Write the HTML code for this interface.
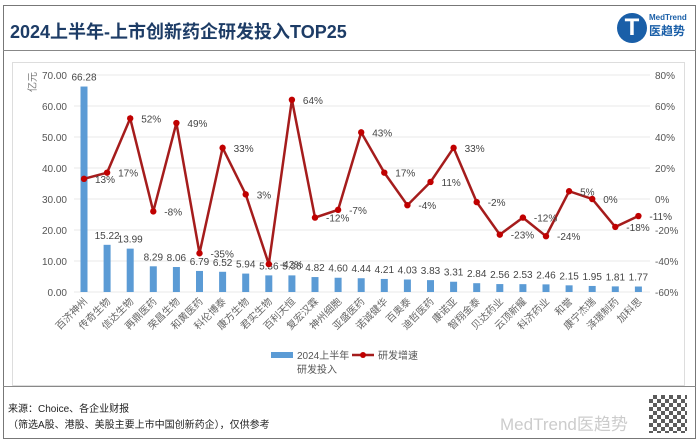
<!DOCTYPE html>
<html><head><meta charset="utf-8">
<style>
body{margin:0;width:700px;height:442px;background:#fff;font-family:"Liberation Sans","Noto Sans CJK SC",sans-serif;overflow:hidden;position:relative}
.abs{position:absolute}
</style></head>
<body>
<div class="abs" style="left:3px;top:5px;width:691px;height:432px;border:1px solid #777;"></div>
<div class="abs" style="left:3px;top:50px;width:693px;height:1px;background:#888"></div>
<div class="abs" style="left:10px;top:18px;font-size:18px;font-weight:bold;color:#1d3c66;font-family:'Liberation Sans','Noto Sans CJK SC',sans-serif">2024上半年-上市创新药企研发投入TOP25</div>
<div class="abs" style="left:617px;top:13px;width:30px;height:30px;border-radius:50%;background:#1a5fa8;color:#fff;font-weight:bold;font-size:24px;text-align:center;line-height:30px">T</div>
<div class="abs" style="left:649px;top:13px;font-size:8px;color:#1a5fa8;font-weight:bold;line-height:10px">MedTrend<br><span style="font-size:12px;line-height:16px">医趋势</span></div>
<div class="abs" style="left:12px;top:62px;width:671px;height:322px;border:1px solid #ddd"></div>
<div class="abs" style="left:3px;top:386px;width:693px;height:1px;background:#888"></div>
<div class="abs" style="left:8px;top:402px;font-size:10px;color:#222;line-height:16px">来源：Choice、各企业财报<br>（筛选A股、港股、美股主要上市中国创新药企），仅供参考</div>
<div class="abs" style="left:500px;top:410px;font-size:17px;color:#ccc">MedTrend医趋势</div>
<div class="abs" style="left:649px;top:395px;width:38px;height:38px;background:repeating-conic-gradient(#333 0 25%,#fff 0 50%) 0 0/8px 8px;opacity:.8"></div>
<svg class="abs" style="left:0;top:0" width="700" height="442" id="chart"></svg>
<script>
const categories=["百济神州","传奇生物","信达生物","再鼎医药","荣昌生物","和黄医药","科伦博泰","康方生物","君实生物","百利天恒","复宏汉霖","神州细胞","亚盛医药","诺诚健华","百奥泰","迪哲医药","康诺亚","智翔金泰","贝达药业","云顶新耀","科济药业","和誉","康宁杰瑞","泽璟制药","加科思"];
const spend=[66.28,15.22,13.99,8.29,8.06,6.79,6.52,5.94,5.36,5.36,4.82,4.60,4.44,4.21,4.03,3.83,3.31,2.84,2.56,2.53,2.46,2.15,1.95,1.81,1.77];
const growth=[13,17,52,-8,49,-35,33,3,-42,64,-12,-7,43,17,-4,11,33,-2,-23,-12,-24,5,0,-18,-11];
const leftTicks=[0,10,20,30,40,50,60,70];
const rightTicks=[-60,-40,-20,0,20,40,60,80];
const svg=document.getElementById('chart');const NS='http://www.w3.org/2000/svg';
const x0=84,dx=23.1,yB=292,yT=75;
const yL=v=>yB-(v/70)*(yB-yT);
const yR=v=>yB-((v+60)/140)*(yB-yT);
const xc=i=>x0+i*dx;
function mk(t,a,txt){const e=document.createElementNS(NS,t);for(const k in a)e.setAttribute(k,a[k]);if(txt!==undefined)e.textContent=txt;svg.appendChild(e);return e;}
leftTicks.forEach((v,i)=>{
 const g=mk('line',{x1:74,x2:650,y1:yL(v),y2:yL(v),stroke:'#e8e8e8','stroke-width':1});
 
 
 const t=mk('text',{x:67,y:yL(v)+4,'text-anchor':'end','font-size':10,fill:'#555'},v.toFixed(2));
 
 
});
rightTicks.forEach(v=>{
 const t=mk('text',{x:655,y:yR(v)+4,'font-size':10,fill:'#555'},v+'%');
 
 
});
const u=mk('text',{x:36,y:82,'font-size':10,fill:'#777',transform:'rotate(-90 36 82)','text-anchor':'middle'},'亿元');


spend.forEach((v,i)=>{
 const b=mk('rect',{x:xc(i)-3.5,y:yL(v),width:7,height:yB-yL(v),fill:'#5b9bd5'});
 
 
 const t=mk('text',{x:xc(i),y:yL(v)-6,'text-anchor':'middle','font-size':10,fill:'#444'},v.toFixed(2));
 
 
 const c=mk('text',{x:xc(i)+4,y:yB+10,'text-anchor':'end','font-size':10,fill:'#666',transform:`rotate(-45 ${xc(i)+4} ${yB+10})`},categories[i]);
 
 
});
const pl=mk('polyline',{points:growth.map((v,i)=>xc(i)+','+yR(v)).join(' '),fill:'none',stroke:'#a51c1c','stroke-width':2.5});


growth.forEach((v,i)=>{
 const d=mk('circle',{cx:xc(i),cy:yR(v),r:3.2,fill:'#c00000'});
 
 
 const t=mk('text',{x:xc(i)+11,y:yR(v)+4,'font-size':10,fill:'#444'},v+'%');
 
 
});
const lb=mk('rect',{x:271,y:352,width:22,height:6,fill:'#5b9bd5'});


const lt=mk('text',{x:297,y:359,'font-size':10,fill:'#555'},'2024上半年');


const lt2=mk('text',{x:297,y:373,'font-size':10,fill:'#555'},'研发投入');


const ll=mk('line',{x1:352,x2:374,y1:355,y2:355,stroke:'#a51c1c','stroke-width':2.5});


const lc=mk('circle',{cx:363,cy:355,r:3,fill:'#c00000'});


const lt3=mk('text',{x:378,y:359,'font-size':10,fill:'#555'},'研发增速');


</script>
</body></html>
